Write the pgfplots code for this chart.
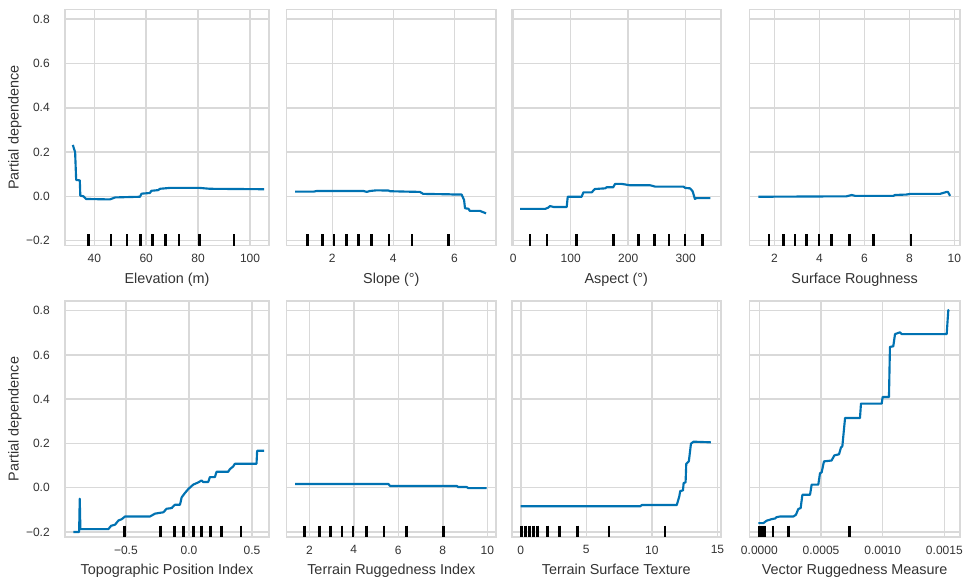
\documentclass[border=0pt]{standalone}
\usepackage{fontspec}
\setmainfont{Liberation Sans}
\usepackage{pgfplots}
\pgfplotsset{compat=1.18}

\definecolor{pdblue}{HTML}{0072B2}
\definecolor{gridgray}{gray}{0.85}
\definecolor{labelgray}{HTML}{333333}

\pgfplotsset{
  pdp/.style={
    scale only axis,
    height=177pt,
    ymin=-0.2226, ymax=0.8436,
    ytick={-0.2,0,0.2,0.4,0.6,0.8},
    yticklabels={},
    scaled x ticks=false, scaled y ticks=false,
    grid=major,
    major grid style={line width=1.15pt, color=gridgray},
    axis line style={line width=1.15pt, color=gridgray},
    major tick length=0pt,
    tick style={draw=none},
    tick label style={font=\fontsize{9}{10}\selectfont, text=labelgray},
    xticklabel style={inner sep=0pt, yshift=-6.3pt},
    yticklabel style={inner sep=0pt, xshift=-11.25pt},
    label style={font=\fontsize{10.8}{12}\selectfont, text=labelgray},
    xlabel style={at={(axis description cs:0.5,-0.161)}, anchor=base},
    ylabel style={at={(axis description cs:-0.245,0.5)}, anchor=center},
    clip=false,
  },
  pdline/.style={pdblue, line width=1.6pt, line join=round, mark=none},
  rug/.style={black, only marks, mark=|, mark size=4.2pt,
    mark options={line width=2pt, draw=black}},
  firstcol/.style={
    yticklabels={−0.2,0.0,0.2,0.4,0.6,0.8},
    ylabel={Partial dependence},
  },
}

\begin{document}
\begin{tikzpicture}
\fill[white] (0pt,0pt) rectangle (725.25pt,435pt);
\useasboundingbox (0pt,0pt) rectangle (725.25pt,435pt);

% ---------------- top row ----------------
\begin{axis}[pdp, firstcol, at={(48.75pt,250.8pt)}, width=153pt,
  xmin=28.7, xmax=107.3, xtick={40,60,80,100},
  xticklabels={40,60,80,100}, xlabel={Elevation (m)}]
\addplot[pdline] coordinates {
  (31.7,0.232) (32.6,0.200) (33.0,0.074) (34.4,0.072) (34.6,0.003)
  (35.8,0.000) (36.8,-0.012) (46.0,-0.014) (48.0,-0.005) (57.6,-0.002)
  (58.2,0.012) (61.4,0.015) (62.0,0.025) (64.6,0.028) (65.3,0.034)
  (69.1,0.038) (80.6,0.038) (84.5,0.034) (105.4,0.032)};
\addplot[rug] coordinates {
  (37.7,-0.197) (46.4,-0.197) (52.6,-0.197) (57.7,-0.197) (62.3,-0.197)
  (67.4,-0.197) (72.6,-0.197) (80.4,-0.197) (93.8,-0.197)};
\end{axis}

\begin{axis}[pdp, at={(215pt,250.8pt)}, width=157pt,
  xmin=0.503, xmax=7.366, xtick={2,4,6},
  xticklabels={2,4,6}, xlabel={Slope (°)}]
\addplot[pdline] coordinates {
  (0.78,0.021) (1.38,0.021) (1.49,0.024) (3.02,0.024) (3.13,0.020)
  (3.23,0.024) (3.45,0.027) (3.84,0.026) (3.89,0.023) (4.49,0.021)
  (4.87,0.020) (4.98,0.011) (5.86,0.009) (5.97,0.008) (6.24,0.008)
  (6.32,-0.017) (6.35,-0.054) (6.46,-0.056) (6.51,-0.066) (6.84,-0.066)
  (7.04,-0.077)};
\addplot[rug] coordinates {
  (1.19,-0.197) (1.67,-0.197) (2.05,-0.197) (2.46,-0.197) (2.86,-0.197)
  (3.29,-0.197) (3.86,-0.197) (4.61,-0.197) (5.80,-0.197)};
\end{axis}

\begin{axis}[pdp, at={(383.8pt,250.8pt)}, width=156.75pt,
  xmin=-2.6, xmax=360.9, xtick={0,100,200,300},
  xticklabels={0,100,200,300}, xlabel={Aspect (°)}]
\addplot[pdline] coordinates {
  (11.9,-0.057) (55.4,-0.057) (61,-0.051) (64,-0.044) (70,-0.048)
  (93,-0.048) (94.8,-0.002) (119,-0.002) (122,0.018) (136.5,0.018)
  (142,0.033) (159.7,0.036) (162.6,0.041) (174,0.041) (177,0.056)
  (188.7,0.056) (203,0.050) (238,0.050) (246.7,0.044) (296,0.044)
  (299,0.038) (307.5,0.036) (312,0.023) (316,-0.012) (319,-0.008)
  (343,-0.008)};
\addplot[rug] coordinates {
  (29.3,-0.197) (58.8,-0.197) (110.4,-0.197) (174.2,-0.197) (217.7,-0.197)
  (245.5,-0.197) (271,-0.197) (298.8,-0.197) (329,-0.197)};
\end{axis}

\begin{axis}[pdp, at={(562pt,250.8pt)}, width=158pt,
  xmin=0.889, xmax=10.25, xtick={2,4,6,8,10},
  xticklabels={2,4,6,8,10}, xlabel={Surface Roughness}]
\addplot[pdline] coordinates {
  (1.29,-0.002) (5.21,0.000) (5.44,0.006) (5.59,0.002) (7.29,0.002)
  (7.36,0.006) (7.88,0.008) (8.03,0.011) (9.36,0.011) (9.66,0.020)
  (9.71,0.020) (9.81,0.002)};
\addplot[rug] coordinates {
  (1.76,-0.197) (2.40,-0.197) (2.92,-0.197) (3.44,-0.197) (3.99,-0.197)
  (4.55,-0.197) (5.33,-0.197) (6.40,-0.197) (8.07,-0.197)};
\end{axis}

% ---------------- bottom row ----------------
\begin{axis}[pdp, firstcol, at={(48.75pt,32.25pt)}, width=153pt,
  xmin=-0.983, xmax=0.635, xtick={-0.5,0,0.5},
  xticklabels={−0.5,0.0,0.5}, xlabel={Topographic Position Index}]
\addplot[pdline] coordinates {
  (-0.916,-0.200) (-0.871,-0.200) (-0.866,-0.050) (-0.861,-0.187)
  (-0.639,-0.187) (-0.617,-0.172) (-0.586,-0.167) (-0.559,-0.148)
  (-0.533,-0.142) (-0.507,-0.130) (-0.309,-0.130) (-0.269,-0.117)
  (-0.203,-0.111) (-0.177,-0.095) (-0.137,-0.092) (-0.111,-0.077)
  (-0.071,-0.077) (-0.058,-0.044) (-0.032,-0.024) (-0.005,-0.006)
  (0.034,0.014) (0.074,0.024) (0.100,0.033) (0.113,0.026) (0.153,0.026)
  (0.166,0.048) (0.206,0.048) (0.219,0.072) (0.311,0.072) (0.325,0.084)
  (0.351,0.096) (0.364,0.108) (0.536,0.108) (0.541,0.167) (0.596,0.167)};
\addplot[rug] coordinates {
  (-0.512,-0.197) (-0.227,-0.197) (-0.116,-0.197) (-0.042,-0.197)
  (0.034,-0.197) (0.098,-0.197) (0.172,-0.197) (0.259,-0.197) (0.412,-0.197)};
\end{axis}

\begin{axis}[pdp, at={(215pt,32.25pt)}, width=157pt,
  xmin=0.981, xmax=10.39, xtick={2,4,6,8,10},
  xticklabels={2,4,6,8,10}, xlabel={Terrain Ruggedness Index}]
\addplot[pdline] coordinates {
  (1.36,0.017) (5.55,0.017) (5.63,0.008) (8.62,0.008) (8.70,0.003)
  (9.07,0.003) (9.15,-0.002) (9.97,-0.002)};
\addplot[rug] coordinates {
  (1.79,-0.197) (2.45,-0.197) (2.94,-0.197) (3.47,-0.197) (3.96,-0.197)
  (4.56,-0.197) (5.36,-0.197) (6.36,-0.197) (8.04,-0.197)};
\end{axis}

\begin{axis}[pdp, at={(383.8pt,32.25pt)}, width=156.75pt,
  xmin=-0.687, xmax=15.25, xtick={0,5,10,15},
  xticklabels={0,5,10,15}, xlabel={Terrain Surface Texture}]
\addplot[pdline] coordinates {
  (0.00,-0.084) (9.11,-0.084) (9.24,-0.078) (11.90,-0.078) (12.09,-0.039)
  (12.16,-0.015) (12.37,-0.012) (12.42,0.021) (12.57,0.024) (12.62,0.108)
  (12.82,0.120) (12.98,0.199) (13.18,0.208) (14.50,0.205)};
\addplot[rug] coordinates {
  (0.05,-0.197) (0.36,-0.197) (0.66,-0.197) (0.97,-0.197) (1.30,-0.197)
  (2.04,-0.197) (2.95,-0.197) (4.35,-0.197) (6.72,-0.197) (10.99,-0.197)};
\end{axis}

\begin{axis}[pdp, at={(562pt,32.25pt)}, width=158pt,
  xmin=-0.0000811, xmax=0.001627, xtick={0,0.0005,0.001,0.0015},
  xticklabels={0.0000,0.0005,0.0010,0.0015}, xlabel={Vector Ruggedness Measure}]
\addplot[pdline] coordinates {
  (-0.0000081,-0.160) (0.0000324,-0.160) (0.000059,-0.149) (0.000100,-0.142)
  (0.000127,-0.139) (0.000140,-0.133) (0.000168,-0.130) (0.000276,-0.130)
  (0.000297,-0.122) (0.000316,-0.096) (0.000335,-0.092) (0.000349,-0.032)
  (0.000411,-0.032) (0.000424,0.014) (0.000478,0.014) (0.000492,0.066)
  (0.000505,0.069) (0.000524,0.119) (0.000586,0.123) (0.000608,0.146)
  (0.000646,0.151) (0.000662,0.182) (0.000673,0.187) (0.000695,0.315)
  (0.000816,0.315) (0.000824,0.380) (0.000992,0.380) (0.001000,0.410)
  (0.001051,0.410) (0.001059,0.636) (0.001086,0.639) (0.001100,0.694)
  (0.001140,0.702) (0.001154,0.694) (0.001519,0.694) (0.001532,0.801)
  (0.001538,0.804)};
\addplot[rug] coordinates {
  (0.0000020,-0.197) (0.0000100,-0.197) (0.0000180,-0.197) (0.0000260,-0.197)
  (0.0000340,-0.197) (0.0000420,-0.197) (0.000111,-0.197) (0.000238,-0.197)
  (0.000730,-0.197)};
\end{axis}
\end{tikzpicture}
\end{document}
